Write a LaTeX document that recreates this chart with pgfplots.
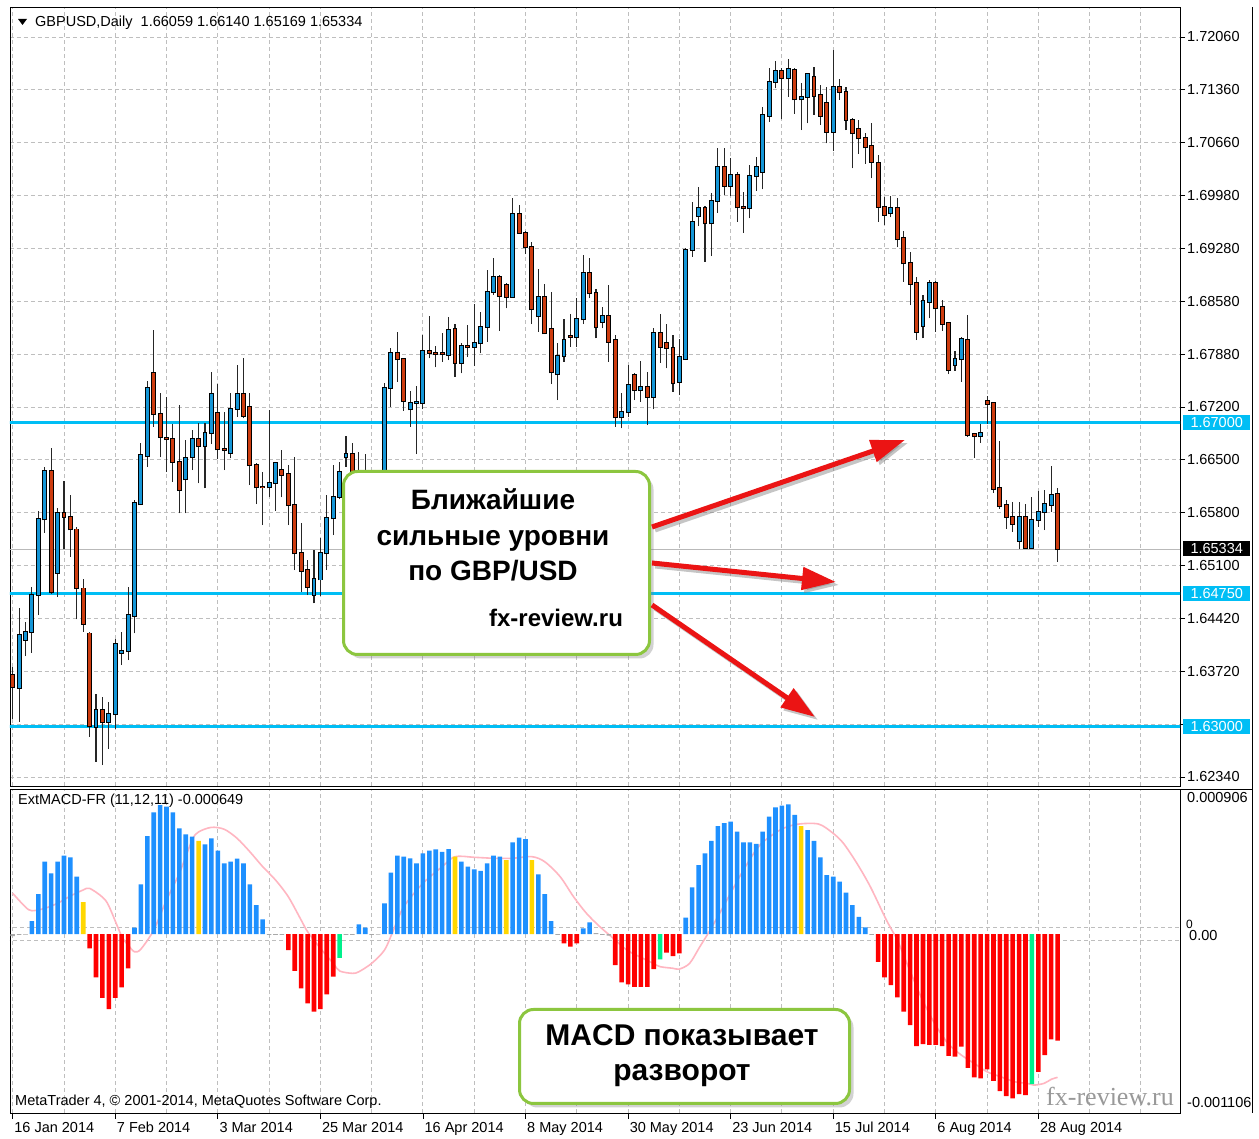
\documentclass[border=0pt]{standalone}
\usepackage{pgfplots}
\pgfplotsset{compat=1.18}
\usepackage{pgfplotstable}
\usepackage{fontspec}
\setmainfont{Liberation Sans}
\newfontfamily\wmfont{Liberation Serif}
\usetikzlibrary{shadows,arrows.meta}
\definecolor{bull}{RGB}{20,150,215}
\definecolor{bear}{RGB}{205,60,15}
\definecolor{lvl}{RGB}{0,190,245}
\definecolor{gridc}{RGB}{190,190,190}
\definecolor{mblue}{RGB}{30,144,255}
\definecolor{mred}{RGB}{255,0,0}
\definecolor{myel}{RGB}{255,215,0}
\definecolor{mgrn}{RGB}{0,240,140}
\definecolor{mgry}{RGB}{169,169,169}
\definecolor{sig}{RGB}{255,182,193}
\definecolor{boxg}{RGB}{140,198,63}
\definecolor{arr}{RGB}{235,20,20}
\newcommand\lab{\fontsize{14.5}{16}\selectfont}

\pgfplotstableread{
i o h l c
0 1.63677 1.63787 1.63108 1.63524
1 1.63511 1.64566 1.63064 1.64203
2 1.64137 1.64378 1.63927 1.64247
3 1.64247 1.64838 1.63971 1.64728
4 1.64728 1.65832 1.64466 1.65723
5 1.65723 1.66415 1.65548 1.66358
6 1.66358 1.66656 1.64750 1.64772
7 1.65022 1.65876 1.64707 1.65810
8 1.65810 1.66227 1.65329 1.65758
9 1.65758 1.66043 1.65232 1.65591
10 1.65591 1.65626 1.64409 1.64816
11 1.64816 1.64947 1.64247 1.64356
12 1.64225 1.64247 1.62867 1.63006
13 1.62998 1.63436 1.62539 1.63217
14 1.63217 1.63393 1.62495 1.63064
15 1.63064 1.63327 1.62714 1.63174
16 1.63165 1.64159 1.62977 1.64085
17 1.63975 1.64247 1.63809 1.63993
18 1.63993 1.64838 1.63874 1.64466
19 1.64453 1.65977 1.64225 1.65942
20 1.65920 1.66721 1.65911 1.66568
21 1.66555 1.67540 1.66415 1.67453
22 1.67641 1.68211 1.66940 1.67107
23 1.67107 1.67387 1.66537 1.66809
24 1.66796 1.67335 1.66349 1.66778
25 1.66778 1.66975 1.66218 1.66481
26 1.66481 1.67225 1.65802 1.66108
27 1.66248 1.66765 1.65802 1.66524
28 1.66546 1.66896 1.66371 1.66778
29 1.66778 1.66984 1.66196 1.66686
30 1.66686 1.66984 1.66130 1.66861
31 1.66861 1.67663 1.66712 1.67365
32 1.67115 1.67501 1.66511 1.66642
33 1.66651 1.67137 1.66371 1.66634
34 1.66599 1.67378 1.66524 1.67172
35 1.67172 1.67751 1.67072 1.67365
36 1.67365 1.67838 1.67050 1.67080
37 1.67194 1.67378 1.66174 1.66437
38 1.66437 1.66458 1.65924 1.66143
39 1.66152 1.66340 1.65648 1.66143
40 1.66143 1.67159 1.66020 1.66204
41 1.66204 1.66480 1.65836 1.66458
42 1.66371 1.66634 1.66012 1.66305
43 1.66314 1.66437 1.65648 1.65911
44 1.65911 1.66537 1.65057 1.65276
45 1.65285 1.65670 1.64772 1.65048
46 1.65057 1.65188 1.64728 1.64838
47 1.64728 1.65328 1.64619 1.64947
48 1.64934 1.65473 1.64715 1.65285
49 1.65276 1.66042 1.65057 1.65736
50 1.65736 1.66437 1.65517 1.66020
51 1.66020 1.66480 1.65985 1.66349
52 1.66537 1.66818 1.66415 1.66581
53 1.66581 1.66721 1.66150 1.66300
54 1.66300 1.66612 1.66050 1.66250
55 1.66250 1.66589 1.65900 1.66050
56 1.66050 1.66250 1.65650 1.65850
57 1.65850 1.66100 1.65700 1.66000
58 1.66000 1.67518 1.65950 1.67443
59 1.67444 1.67978 1.67203 1.67912
60 1.67912 1.68188 1.67531 1.67825
61 1.67825 1.67838 1.67150 1.67282
62 1.67168 1.67413 1.66940 1.67255
63 1.67255 1.67474 1.66581 1.67268
64 1.67255 1.68144 1.67168 1.67934
65 1.67934 1.68394 1.67838 1.67912
66 1.67912 1.68000 1.67719 1.67895
67 1.67903 1.68166 1.67794 1.67895
68 1.67881 1.68377 1.67816 1.68210
69 1.68223 1.68289 1.67597 1.67781
70 1.67781 1.68035 1.67641 1.68004
71 1.68004 1.68276 1.67860 1.67982
72 1.67991 1.68552 1.67737 1.68044
73 1.68035 1.68442 1.67903 1.68254
74 1.68254 1.68998 1.68057 1.68714
75 1.68714 1.69152 1.68670 1.68902
76 1.68902 1.68933 1.68201 1.68657
77 1.68801 1.68832 1.68495 1.68648
78 1.68648 1.69940 1.68648 1.69730
79 1.69730 1.69853 1.69480 1.69489
80 1.69489 1.69515 1.69209 1.69305
81 1.69305 1.69371 1.68289 1.68482
82 1.68394 1.69007 1.68188 1.68648
83 1.68648 1.68815 1.68157 1.68166
84 1.68223 1.68714 1.67500 1.67654
85 1.67632 1.68035 1.67290 1.67868
86 1.67868 1.68350 1.67794 1.68079
87 1.68131 1.68420 1.67991 1.68122
88 1.68122 1.68626 1.67991 1.68350
89 1.68350 1.69196 1.68289 1.68963
90 1.68963 1.69152 1.68626 1.68692
91 1.68692 1.68744 1.68101 1.68245
92 1.68320 1.68508 1.68232 1.68394
93 1.68394 1.68801 1.67794 1.68057
94 1.68079 1.68144 1.66940 1.67062
95 1.67062 1.67387 1.66918 1.67128
96 1.67128 1.67750 1.67062 1.67487
97 1.67619 1.67649 1.67290 1.67422
98 1.67422 1.67807 1.67268 1.67465
99 1.67465 1.67662 1.66962 1.67334
100 1.67334 1.68232 1.67168 1.68166
101 1.68166 1.68420 1.67781 1.67991
102 1.68035 1.68289 1.67706 1.67978
103 1.67978 1.68144 1.67400 1.67509
104 1.67531 1.68087 1.67356 1.67851
105 1.67829 1.69283 1.67816 1.69261
106 1.69261 1.69896 1.69174 1.69634
107 1.69708 1.70085 1.69577 1.69809
108 1.69809 1.69839 1.69110 1.69612
109 1.69612 1.70006 1.69182 1.69909
110 1.69906 1.70598 1.69752 1.70357
111 1.70357 1.70598 1.69984 1.70103
112 1.70103 1.70466 1.69971 1.70247
113 1.70247 1.70291 1.69634 1.69822
114 1.69831 1.70028 1.69489 1.69809
115 1.69809 1.70378 1.69678 1.70234
116 1.70234 1.70488 1.70041 1.70357
117 1.70291 1.71145 1.70059 1.71036
118 1.71022 1.71649 1.70948 1.71474
119 1.71474 1.71750 1.71386 1.71618
120 1.71618 1.71649 1.70979 1.71517
121 1.71517 1.71767 1.71276 1.71636
122 1.71627 1.71649 1.71049 1.71241
123 1.71241 1.71452 1.70838 1.71276
124 1.71276 1.71583 1.70926 1.71570
125 1.71530 1.71662 1.71036 1.71285
126 1.71298 1.71430 1.70904 1.71022
127 1.71198 1.71408 1.70663 1.70817
128 1.70817 1.71890 1.70567 1.71408
129 1.71408 1.71504 1.71233 1.71342
130 1.71342 1.71399 1.70838 1.70970
131 1.70970 1.70992 1.70335 1.70795
132 1.70847 1.70970 1.70523 1.70729
133 1.70729 1.70803 1.70392 1.70611
134 1.70628 1.70926 1.70203 1.70422
135 1.70400 1.70510 1.69634 1.69831
136 1.69831 1.69962 1.69590 1.69722
137 1.69743 1.69970 1.69690 1.69808
138 1.69808 1.69940 1.69296 1.69401
139 1.69414 1.69515 1.68845 1.69086
140 1.69094 1.69239 1.68538 1.68814
141 1.68823 1.68902 1.68078 1.68188
142 1.68262 1.68670 1.68100 1.68595
143 1.68582 1.68867 1.68363 1.68823
144 1.68823 1.68858 1.68188 1.68494
145 1.68507 1.68604 1.68201 1.68288
146 1.68297 1.68319 1.67631 1.67684
147 1.67750 1.67938 1.67675 1.67824
148 1.67824 1.68122 1.67531 1.68087
149 1.68078 1.68407 1.66808 1.66830
150 1.66843 1.66852 1.66536 1.66817
151 1.66817 1.66983 1.66729 1.66861
152 1.67281 1.67342 1.66980 1.67237
153 1.67246 1.67255 1.66072 1.66129
154 1.66142 1.66755 1.65866 1.65897
155 1.65910 1.65976 1.65604 1.65757
156 1.65757 1.65954 1.65560 1.65661
157 1.65441 1.65954 1.65341 1.65757
158 1.65757 1.65932 1.65341 1.65354
159 1.65354 1.66020 1.65341 1.65713
160 1.65713 1.66098 1.65626 1.65822
161 1.65822 1.66107 1.65582 1.65932
162 1.65910 1.66423 1.65822 1.66041
163 1.66059 1.66140 1.65169 1.65334
}\candles

% MACD histogram, values in units of 1e-6; k: 0 grey, 1 blue, 2 red, 3 yellow, 4 green
\pgfplotstableread{
i v k
0 -13 0
1 -6 0
2 -3 0
3 82 1
4 252 1
5 456 1
6 383 1
7 456 1
8 494 1
9 484 1
10 362 1
11 202 3
12 -90 2
13 -273 2
14 -402 2
15 -473 2
16 -402 2
17 -336 2
18 -216 2
19 40 1
20 314 1
21 618 1
22 768 1
23 814 1
24 803 1
25 768 1
26 667 1
27 629 1
28 614 1
29 587 3
30 566 1
31 604 1
32 526 1
33 446 1
34 456 1
35 475 1
36 446 1
37 314 1
38 183 1
39 93 1
40 -6 0
41 -6 0
42 -6 0
43 -101 2
44 -232 2
45 -343 2
46 -437 2
47 -490 2
48 -473 2
49 -380 2
50 -269 2
51 -150 4
52 -6 0
53 -6 0
54 61 1
55 40 1
56 -6 0
57 -3 0
58 194 1
59 387 1
60 494 1
61 488 1
62 478 1
63 446 1
64 509 1
65 526 1
66 534 1
67 519 1
68 536 1
69 488 3
70 456 1
71 425 1
72 408 1
73 398 1
74 446 1
75 494 1
76 488 1
77 467 3
78 579 1
79 608 1
80 598 1
81 467 3
82 377 1
83 252 1
84 82 1
85 -6 0
86 -59 2
87 -80 2
88 -59 2
89 36 1
90 74 1
91 6 0
92 -6 0
93 -10 0
94 -196 2
95 -305 2
96 -317 2
97 -333 2
98 -333 2
99 -333 2
100 -221 2
101 -160 4
102 -118 2
103 -139 2
104 -122 2
105 103 1
106 295 1
107 435 1
108 509 1
109 587 1
110 681 1
111 699 1
112 709 1
113 646 1
114 579 1
115 579 1
116 568 1
117 646 1
118 740 1
119 799 1
120 810 1
121 818 1
122 751 1
123 681 3
124 656 1
125 587 1
126 484 1
127 372 1
128 362 1
129 330 1
130 261 1
131 183 1
132 109 1
133 42 1
134 -6 0
135 -175 2
136 -273 2
137 -322 2
138 -399 2
139 -490 2
140 -574 2
141 -707 2
142 -694 2
143 -700 2
144 -700 2
145 -707 2
146 -768 2
147 -774 2
148 -711 2
149 -844 2
150 -904 2
151 -911 2
152 -854 2
153 -926 2
154 -991 2
155 -1022 2
156 -1037 2
157 -1010 2
158 -1016 2
159 -947 4
160 -869 2
161 -764 2
162 -664 2
163 -673 2
}\macd

\pgfplotstableread{
x s
0 257
2 170
3 147
5 162
7 194
9 240
11 278
12 288
14 233
15 177
17 -13
18 -69
19 -112
20 -95
22 25
24 215
26 383
28 593
29 644
31 673
33 661
35 604
37 519
39 425
41 341
43 235
45 88
46 15
48 -90
50 -185
51 -233
53 -248
54 -238
56 -185
58 -101
59.4 25
61 172
64 320
67 425
69 488
72 484
75 478
78 478
81 488
83 456
85.4 362
87.5 235
89.5 131
91.6 46
93.7 -27
95.8 -101
97.8 -143
99.9 -185
101 -206
103 -216
104 -221
105.6 -185
107.2 -80
108.8 25
110.4 139
114 404
116.6 562
119.7 656
122.3 692
125.7 694
128 635
129.6 572
131.7 446
133.8 298
136.3 88
138 -38
139.5 -185
141.7 -396
143.8 -563
145.9 -690
148 -764
150 -816
152 -869
154.1 -900
156.3 -932
158.3 -942
159.3 -953
160.9 -942
162 -917
163 -904
}\sigline

\begin{document}
\begin{tikzpicture}[x=1pt,y=1pt]
\fill[white] (0,0) rectangle (1259,1139);

% ---------------- price panel ----------------
\begin{axis}[
  at={(10pt,353pt)}, anchor=south west,
  width=1170pt, height=779pt, scale only axis,
  xmin=-0.42, xmax=182.1, ymin=1.62222, ymax=1.72454,
  clip mode=individual,
  axis line style={black, line width=0.9pt},
  xtick={0,16,...,176}, xticklabels={},
  minor xtick={8,24,40,56,72,88,104,120,136,152,168},
  xtick style={draw=none}, minor tick length=0pt,
  ytick={1.72060,1.71366,1.70672,1.69977,1.69283,1.68589,1.67894,1.67200,1.66506,1.65811,1.65117,1.64423,1.63728,1.63034,1.62340},
  yticklabels={1.72060,1.71360,1.70660,1.69980,1.69280,1.68580,1.67880,1.67200,1.66500,1.65800,1.65100,1.64420,1.63720,{},1.62340},
  ytick pos=right, yticklabel pos=right, ytick align=outside, major tick length=5pt,
  ytick style={black, line width=0.8pt},
  yticklabel style={font=\lab, anchor=west, inner sep=0pt, xshift=2pt},
  xmajorgrids, xminorgrids, ymajorgrids,
  major grid style={draw=gridc, dash pattern=on 4pt off 3pt, line width=0.9pt},
  minor grid style={draw=gridc, dash pattern=on 4pt off 3pt, line width=0.9pt},
]
% levels
\addplot[lvl, line width=2.8pt, forget plot] coordinates {(-1,1.67000) (185,1.67000)};
\addplot[lvl, line width=2.8pt, forget plot] coordinates {(-1,1.64750) (185,1.64750)};
\addplot[lvl, line width=2.8pt, forget plot] coordinates {(-1,1.63000) (185,1.63000)};
\addplot[gray!55, line width=1pt, forget plot] coordinates {(-1,1.65334) (185,1.65334)};
% wicks
\addplot[draw=none, mark=none, forget plot,
  error bars/.cd, y dir=plus, y explicit, error mark=none,
  error bar style={draw=black!85, line width=1.1pt}]
  table[x=i, y=l, y error expr={\thisrow{h}-\thisrow{l}}] {\candles};
% body outlines
\addplot[draw=none, mark=none, forget plot,
  error bars/.cd, y dir=plus, y explicit, error mark=none,
  error bar style={draw=black, line width=4.9pt}]
  table[x=i, y expr={min(\thisrow{o},\thisrow{c})-0.00013}, y error expr={abs(\thisrow{c}-\thisrow{o})+0.00026}] {\candles};
% bull bodies
\addplot[draw=none, mark=none, forget plot,
  restrict expr to domain={\thisrow{c}-\thisrow{o}}{0:1},
  error bars/.cd, y dir=plus, y explicit, error mark=none,
  error bar style={draw=bull, line width=2.9pt}]
  table[x=i, y=o, y error expr={\thisrow{c}-\thisrow{o}}] {\candles};
% bear bodies
\addplot[draw=none, mark=none, forget plot,
  restrict expr to domain={\thisrow{c}-\thisrow{o}}{-1:0},
  error bars/.cd, y dir=plus, y explicit, error mark=none,
  error bar style={draw=bear, line width=2.9pt}]
  table[x=i, y=c, y error expr={\thisrow{o}-\thisrow{c}}] {\candles};
\end{axis}

% ---------------- MACD panel ----------------
\begin{axis}[
  at={(10pt,26pt)}, anchor=south west,
  width=1170pt, height=324pt, scale only axis,
  xmin=-0.42, xmax=182.1, ymin=-1129, ymax=915,
  clip mode=individual,
  axis line style={black, line width=0.9pt},
  xtick={0,16,...,160},
  xticklabels={16 Jan 2014,7 Feb 2014,3 Mar 2014,25 Mar 2014,16 Apr 2014,8 May 2014,30 May 2014,23 Jun 2014,15 Jul 2014,6 Aug 2014,28 Aug 2014},
  minor xtick={8,24,40,56,72,88,104,120,136,152,168,176},
  xtick pos=lower, xtick align=outside, major tick length=6pt, minor tick length=0pt,
  xtick style={black, line width=0.8pt},
  xticklabel style={font=\lab, anchor=north west, inner sep=0pt, xshift=1.5pt, yshift=-3pt},
  ytick=\empty,
  xmajorgrids, xminorgrids,
  major grid style={draw=gridc, dash pattern=on 4pt off 3pt, line width=0.9pt},
  minor grid style={draw=gridc, dash pattern=on 4pt off 3pt, line width=0.9pt},
]
\addplot[gridc, dash pattern=on 4pt off 3pt, line width=0.9pt, forget plot] coordinates {(-1,40) (185,40)};
\addplot[gridc, dash pattern=on 4pt off 3pt, line width=0.9pt, forget plot] coordinates {(-1,-42) (185,-42)};
\addplot[sig, line width=1.6pt, smooth, forget plot] table[x=x, y=s] {\sigline};
\addplot[ybar, bar width=4.6pt, bar shift=0pt, fill=mgry, draw=none, forget plot,
  restrict expr to domain={\thisrow{k}}{0:0}] table[x=i, y=v] {\macd};
\addplot[ybar, bar width=4.6pt, bar shift=0pt, fill=mblue, draw=none, forget plot,
  restrict expr to domain={\thisrow{k}}{1:1}] table[x=i, y=v] {\macd};
\addplot[ybar, bar width=4.6pt, bar shift=0pt, fill=mred, draw=none, forget plot,
  restrict expr to domain={\thisrow{k}}{2:2}] table[x=i, y=v] {\macd};
\addplot[ybar, bar width=4.6pt, bar shift=0pt, fill=myel, draw=none, forget plot,
  restrict expr to domain={\thisrow{k}}{3:3}] table[x=i, y=v] {\macd};
\addplot[ybar, bar width=4.6pt, bar shift=0pt, fill=mgrn, draw=none, forget plot,
  restrict expr to domain={\thisrow{k}}{4:4}] table[x=i, y=v] {\macd};
\end{axis}

% ---------------- texts and labels ----------------
\fill[black] (18,1120) -- (27,1120) -- (22.5,1114) -- cycle;
\node[anchor=base west, inner sep=0pt, font=\lab] at (35,1112) {GBPUSD,Daily\ \ 1.66059 1.66140 1.65169 1.65334};
\node[anchor=base west, inner sep=0pt, font=\lab] at (18,334) {ExtMACD-FR (11,12,11) -0.000649};
\node[anchor=base west, inner sep=0pt, font=\lab] at (15,33) {MetaTrader 4, © 2001-2014, MetaQuotes Software Corp.};
\node[text=gray!80, font=\wmfont\fontsize{26}{28}\selectfont] at (1110,42) {fx-review.ru};

% right price boxes
\foreach \yy/\tt in {716/1.67000, 545/1.64750, 412/1.63000}{
  \node[fill=lvl, text=white, font=\lab, inner sep=0pt, minimum width=67pt, minimum height=15pt, anchor=west] at (1183,\yy) {\tt};
}
\node[fill=black, text=white, font=\lab, inner sep=0pt, minimum width=67pt, minimum height=15pt, anchor=west] at (1183,590) {1.65334};

% MACD scale labels
\node[anchor=base west, inner sep=0pt, font=\lab] at (1187,336) {0.000906};
\node[anchor=base west, inner sep=0pt, font=\lab] at (1187,31) {-0.001106};
\node[anchor=base west, inner sep=0pt, font=\fontsize{12}{13}\selectfont] at (1186,210) {0};
\node[anchor=base west, inner sep=0pt, font=\lab] at (1189,198) {0.00};
\draw[black, line width=0.9pt] (1180,350) -- (1252,350);
\draw[black, line width=0.9pt] (1252,26) -- (1252,1132);

% annotation box 1
\node[draw=boxg, line width=3pt, rounded corners=14pt, fill=white, minimum width=306pt, minimum height=183pt,
  drop shadow={shadow xshift=4pt, shadow yshift=-4pt, opacity=0.35}] at (496.5,576) {};
\node[anchor=base, font=\bfseries\fontsize{28}{30}\selectfont] at (493,629) {Ближайшие};
\node[anchor=base, font=\bfseries\fontsize{28}{30}\selectfont] at (493,593) {сильные уровни};
\node[anchor=base, font=\bfseries\fontsize{28}{30}\selectfont] at (493,558) {по GBP/USD};
\node[anchor=base, font=\bfseries\fontsize{24}{26}\selectfont] at (556,512) {fx-review.ru};

% annotation box 2
\node[draw=boxg, line width=3pt, rounded corners=14pt, fill=white, minimum width=330pt, minimum height=94pt,
  drop shadow={shadow xshift=4pt, shadow yshift=-4pt, opacity=0.35}] at (684.5,82.5) {};
\node[anchor=base, font=\bfseries\fontsize{30}{32}\selectfont] at (682,93) {MACD показывает};
\node[anchor=base, font=\bfseries\fontsize{30}{32}\selectfont] at (682,58) {разворот};

% arrows (shadows first)
\draw[gray, opacity=0.45, line width=5pt, -{Triangle[length=34pt,width=22pt]}] (655,609) -- (908,696);
\draw[gray, opacity=0.45, line width=5pt, -{Triangle[length=34pt,width=22pt]}] (655,573) -- (839,554);
\draw[gray, opacity=0.45, line width=5pt, -{Triangle[length=34pt,width=22pt]}] (655,531) -- (818,419);
\draw[arr, line width=5pt, -{Triangle[length=34pt,width=22pt]}] (652,612) -- (905,699);
\draw[arr, line width=5pt, -{Triangle[length=34pt,width=22pt]}] (652,576) -- (836,557);
\draw[arr, line width=5pt, -{Triangle[length=34pt,width=22pt]}] (652,534) -- (815,422);
\end{tikzpicture}
\end{document}
